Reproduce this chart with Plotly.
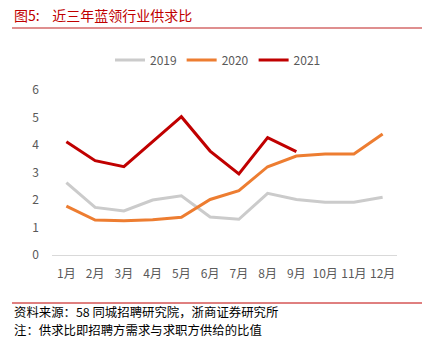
import plotly.graph_objects as go

months = ["1月", "2月", "3月", "4月", "5月", "6月", "7月", "8月", "9月", "10月", "11月", "12月"]
y2019 = [2.63, 1.73, 1.60, 2.00, 2.15, 1.38, 1.30, 2.24, 2.02, 1.92, 1.92, 2.10]
y2020 = [1.78, 1.27, 1.25, 1.28, 1.37, 2.02, 2.34, 3.21, 3.60, 3.67, 3.67, 4.40]
y2021 = [4.12, 3.43, 3.21, 4.12, 5.03, 3.78, 2.95, 4.27, 3.76]
series_names = ["2019", "2020", "2021"]
colors = ["#CBCBCB", "#ED7D31", "#C00000"]

fig = go.Figure()
for name, ys, c in zip(series_names, [y2019, y2020, y2021], colors):
    fig.add_trace(go.Scatter(x=months[:len(ys)], y=ys, mode="lines", name=name,
                             line=dict(color=c, width=3)))

W, H = 428, 347
L, R, T, B = 52, 31, 90, 92
pw, ph = W - L - R, H - T - B

def px(x):
    return (x - L) / pw

def py(y):
    return (H - B - y) / ph

fig.update_layout(
    width=W, height=H,
    margin=dict(l=L, r=R, t=T, b=B),
    paper_bgcolor="white", plot_bgcolor="white",
    font=dict(family="Noto Sans CJK SC", size=12, color="#595959"),
    showlegend=True,
    legend=dict(orientation="h", x=px(218), xanchor="center", y=py(60), yanchor="middle",
                font=dict(size=12, color="#595959"), itemwidth=30, traceorder="normal"),
    xaxis=dict(range=[-0.5, 11.5], showgrid=False, showline=True, linecolor="#D9D9D9", linewidth=1,
               ticks="", tickfont=dict(size=12, color="#595959"), ticklabelstandoff=8),
    yaxis=dict(range=[0, 6], dtick=1, showgrid=False, zeroline=False, showline=False,
               ticks="", tickfont=dict(size=12, color="#595959"), ticklabelstandoff=12),
)

fig.add_shape(type="line", xref="paper", yref="paper", x0=px(12), x1=px(422),
              y0=py(28), y1=py(28), line=dict(color="#D46A6A", width=1.5))
fig.add_shape(type="line", xref="paper", yref="paper", x0=px(12), x1=px(422),
              y0=py(303), y1=py(303), line=dict(color="#C00000", width=1))

fig.add_annotation(xref="paper", yref="paper", x=px(12), y=py(15), xanchor="left", yanchor="middle",
                   text="图5:    近三年蓝领行业供求比", showarrow=False,
                   font=dict(family="Noto Sans CJK SC", size=14, color="#C00000"))
fig.add_annotation(xref="paper", yref="paper", x=px(12), y=py(312), xanchor="left", yanchor="middle",
                   text="资料来源：58 同城招聘研究院，浙商证券研究所", showarrow=False,
                   font=dict(family="Noto Sans CJK SC", size=12.4, color="#000000"))
fig.add_annotation(xref="paper", yref="paper", x=px(12), y=py(330), xanchor="left", yanchor="middle",
                   text="注：供求比即招聘方需求与求职方供给的比值", showarrow=False,
                   font=dict(family="Noto Sans CJK SC", size=12.4, color="#000000"))

fig.write_html("out.html")
